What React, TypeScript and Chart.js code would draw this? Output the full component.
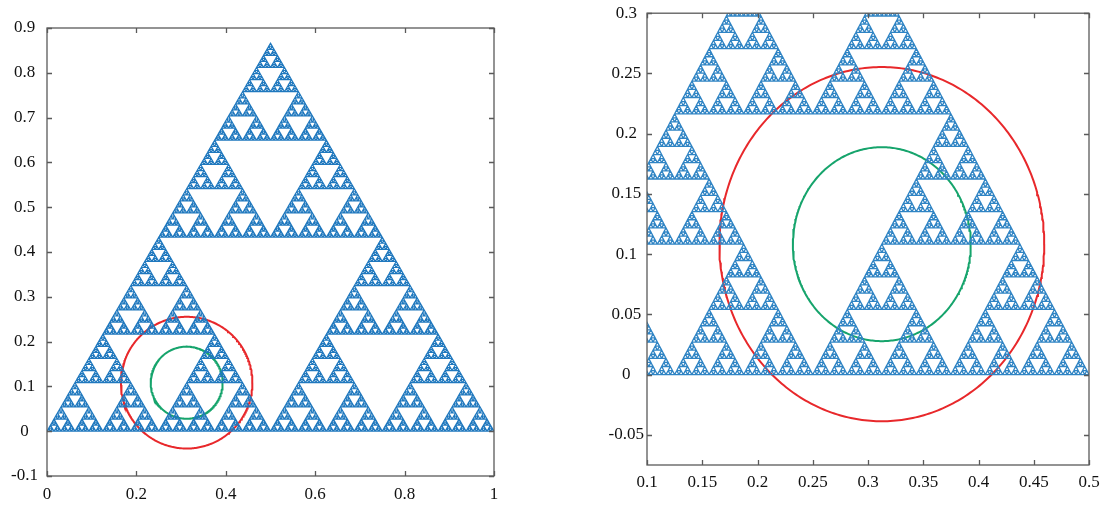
import React, { useEffect, useRef } from 'react';
import { Chart, registerables } from 'chart.js';
Chart.register(...registerables);

// ---- data ----
const TRI_X = [0, 1, 0.5];
const TRI_Y = [0, 0, 0.8660254];
const LEFT_DEPTH = 7;
const RIGHT_DEPTH = 8;
const CENTER_X = 0.3125;
const CENTER_Y = 0.1083;
const RED_RADIUS = 0.147;
const GREEN_RADIUS = 0.0805;
const LEFT_X_TICKS = [0, 0.2, 0.4, 0.6, 0.8, 1];
const LEFT_Y_TICKS = [-0.1, 0, 0.1, 0.2, 0.3, 0.4, 0.5, 0.6, 0.7, 0.8, 0.9];
const RIGHT_X_TICKS = [0.1, 0.15, 0.2, 0.25, 0.3, 0.35, 0.4, 0.45, 0.5];
const RIGHT_Y_TICKS = [-0.05, 0, 0.05, 0.1, 0.15, 0.2, 0.25, 0.3];
const RIGHT_Y_MIN = -0.075;

type P = { x: number; y: number };

function sierpinski(ax: number, ay: number, bx: number, by: number, cx: number, cy: number, depth: number, out: P[]) {
  if (depth === 0) {
    out.push({ x: ax, y: ay }, { x: bx, y: by }, { x: cx, y: cy }, { x: ax, y: ay }, { x: NaN, y: NaN });
    return;
  }
  const abx = (ax + bx) / 2, aby = (ay + by) / 2;
  const bcx = (bx + cx) / 2, bcy = (by + cy) / 2;
  const cax = (cx + ax) / 2, cay = (cy + ay) / 2;
  sierpinski(ax, ay, abx, aby, cax, cay, depth - 1, out);
  sierpinski(abx, aby, bx, by, bcx, bcy, depth - 1, out);
  sierpinski(cax, cay, bcx, bcy, cx, cy, depth - 1, out);
}

function circle(r: number): P[] {
  const pts: P[] = [];
  for (let i = 0; i <= 360; i++) {
    const a = (i * Math.PI) / 180;
    pts.push({ x: CENTER_X + r * Math.cos(a), y: CENTER_Y + r * Math.sin(a) });
  }
  return pts;
}

const framePlugin = {
  id: 'frame',
  afterDatasetsDraw(chart: any) {
    const { ctx, chartArea: a, scales } = chart;
    ctx.save();
    ctx.strokeStyle = '#5a5a5a';
    ctx.lineWidth = 1.3;
    ctx.strokeRect(a.left, a.top, a.right - a.left, a.bottom - a.top);
    const L = 5;
    ctx.beginPath();
    scales.x.ticks.forEach((t: any) => {
      const px = Math.round(scales.x.getPixelForValue(t.value)) + 0.5;
      ctx.moveTo(px, a.bottom);
      ctx.lineTo(px, a.bottom - L);
      ctx.moveTo(px, a.top);
      ctx.lineTo(px, a.top + L);
    });
    scales.y.ticks.forEach((t: any) => {
      const py = Math.round(scales.y.getPixelForValue(t.value)) + 0.5;
      ctx.moveTo(a.left, py);
      ctx.lineTo(a.left + L, py);
      ctx.moveTo(a.right, py);
      ctx.lineTo(a.right - L, py);
    });
    ctx.stroke();
    ctx.restore();
  },
};

interface PanelProps {
  left: number;
  width: number;
  height: number;
  xTicks: number[];
  yTicks: number[];
  yMin: number;
  depth: number;
  yAxisWidth: number;
  xAxisHeight: number;
  padTop: number;
  padRight: number;
  yLabelPad: number;
  xLabelPad: number;
  blue: string;
  blueWidth: number;
}

function Panel(p: PanelProps) {
  const ref = useRef<HTMLCanvasElement>(null);
  useEffect(() => {
    if (!ref.current) return;
    const tri: P[] = [];
    sierpinski(TRI_X[0], TRI_Y[0], TRI_X[1], TRI_Y[1], TRI_X[2], TRI_Y[2], p.depth, tri);
    const font = { family: '"Liberation Serif", "Times New Roman", serif', size: 17 };
    const chart = new Chart(ref.current, {
      type: 'line',
      data: {
        datasets: [
          { data: tri, borderColor: p.blue, borderWidth: p.blueWidth, pointRadius: 0, spanGaps: false, tension: 0 },
          { data: circle(RED_RADIUS), borderColor: '#e8282b', borderWidth: 2, pointRadius: 0, tension: 0 },
          { data: circle(GREEN_RADIUS), borderColor: '#16a46c', borderWidth: 2, pointRadius: 0, tension: 0 },
        ],
      } as any,
      options: {
        responsive: false,
        animation: false,
        layout: { padding: { top: p.padTop, right: p.padRight, left: 0, bottom: 0 } },
        plugins: { legend: { display: false }, tooltip: { enabled: false } },
        scales: {
          x: {
            type: 'linear',
            min: p.xTicks[0],
            max: p.xTicks[p.xTicks.length - 1],
            grid: { display: false, drawTicks: false },
            border: { display: false },
            afterBuildTicks: (s: any) => {
              s.ticks = p.xTicks.map((v) => ({ value: v }));
            },
            afterFit: (s: any) => {
              s.height = p.xAxisHeight;
            },
            ticks: { font, color: '#111', padding: p.xLabelPad, maxRotation: 0, autoSkip: false, callback: (v: any) => String(v) },
          },
          y: {
            type: 'linear',
            min: p.yMin,
            max: p.yTicks[p.yTicks.length - 1],
            grid: { display: false, drawTicks: false },
            border: { display: false },
            afterBuildTicks: (s: any) => {
              s.ticks = p.yTicks.map((v) => ({ value: v }));
            },
            afterFit: (s: any) => {
              s.width = p.yAxisWidth;
            },
            ticks: { font, color: '#111', padding: p.yLabelPad, crossAlign: 'center', autoSkip: false, callback: (v: any) => String(v) },
          },
        },
      } as any,
      plugins: [framePlugin],
    });
    return () => chart.destroy();
  }, []);
  return (
    <div style={{ position: 'absolute', left: p.left, top: 0, width: p.width, height: p.height }}>
      <canvas ref={ref} width={p.width} height={p.height} style={{ display: 'block' }} />
    </div>
  );
}

export default function App() {
  return (
    <div style={{ position: 'fixed', left: 0, top: 0, width: 1116, height: 506, background: '#fff', overflow: 'hidden' }}>
      <Panel
        left={0}
        width={520}
        height={506}
        xTicks={LEFT_X_TICKS}
        yTicks={LEFT_Y_TICKS}
        yMin={LEFT_Y_TICKS[0]}
        depth={LEFT_DEPTH}
        yAxisWidth={47}
        xAxisHeight={30}
        padTop={28}
        padRight={26}
        yLabelPad={9}
        xLabelPad={8}
        blue="#1f78be"
        blueWidth={1.2}
      />
      <Panel
        left={560}
        width={556}
        height={506}
        xTicks={RIGHT_X_TICKS}
        yTicks={RIGHT_Y_TICKS}
        yMin={RIGHT_Y_MIN}
        depth={RIGHT_DEPTH}
        yAxisWidth={87}
        xAxisHeight={41}
        padTop={11}
        padRight={27}
        yLabelPad={3}
        xLabelPad={7}
        blue="#2f84c4"
        blueWidth={1.3}
      />
    </div>
  );
}
